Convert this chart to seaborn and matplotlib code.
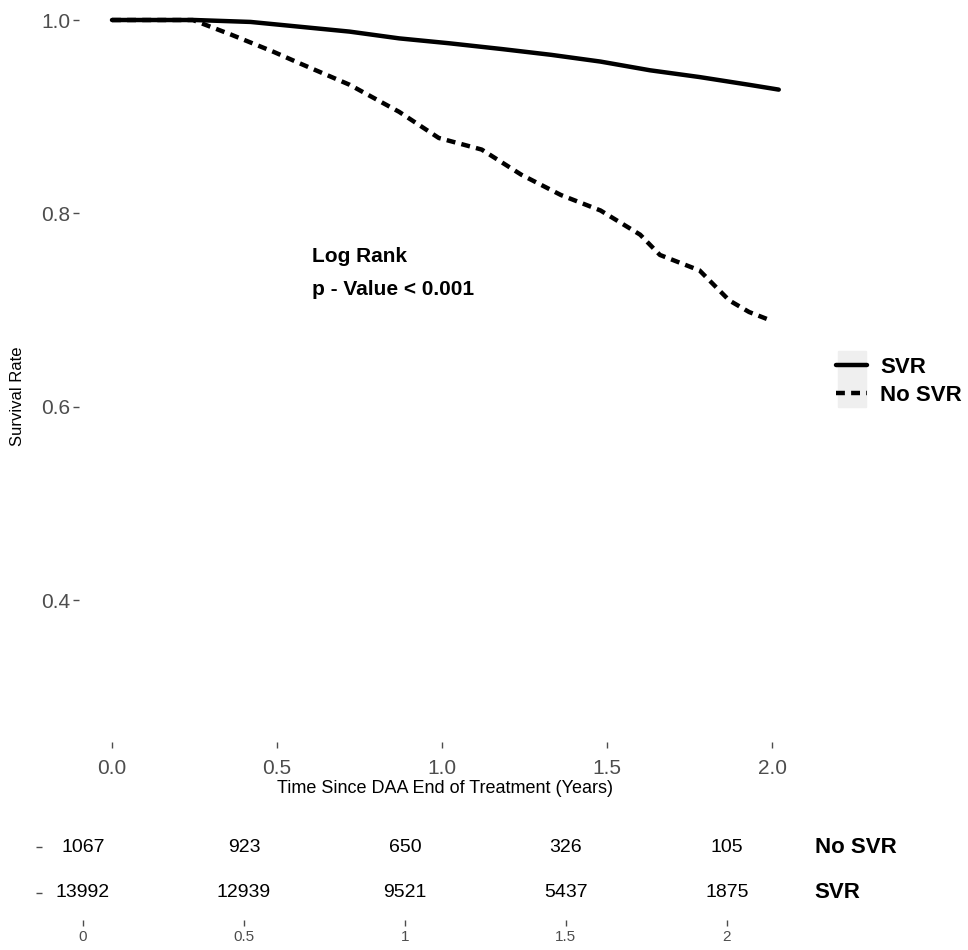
import pandas as pd
import matplotlib.pyplot as plt
import seaborn as sns
from matplotlib.patches import Rectangle

# survival curves
svr_time = [0, 0.25, 0.42, 0.57, 0.72, 0.87, 1.02, 1.18, 1.33, 1.48, 1.63, 1.78, 1.93, 2.02]
svr_surv = [1.0, 1.0, 0.998, 0.993, 0.988, 0.981, 0.976, 0.970, 0.964, 0.957, 0.948, 0.941, 0.933, 0.928]

nosvr_time = [0, 0.245, 0.36, 0.49, 0.57, 0.72, 0.87, 0.99, 1.12, 1.24, 1.36, 1.48,
              1.60, 1.66, 1.78, 1.87, 1.93, 1.99]
nosvr_surv = [1.0, 1.0, 0.985, 0.967, 0.955, 0.933, 0.905, 0.878, 0.866, 0.840, 0.819, 0.803,
              0.778, 0.757, 0.741, 0.710, 0.698, 0.690]

# numbers at risk
risk_times = [0, 0.5, 1, 1.5, 2]
risk_nosvr = [1067, 923, 650, 326, 105]
risk_svr = [13992, 12939, 9521, 5437, 1875]

df = pd.concat([
    pd.DataFrame({"time": svr_time, "surv": svr_surv, "group": "SVR"}),
    pd.DataFrame({"time": nosvr_time, "surv": nosvr_surv, "group": "No SVR"}),
])

sns.set_style("white")
plt.rcParams["font.family"] = ["Liberation Sans", "DejaVu Sans"]
plt.rcParams["text.color"] = "black"
plt.rcParams["axes.labelcolor"] = "black"
grey = "#4d4d4d"

fig = plt.figure(figsize=(9.68, 9.5), dpi=100)
ax = fig.add_axes([0.0816, 0.219, 0.757, 0.775])

sns.lineplot(data=df, x="time", y="surv", style="group", style_order=["SVR", "No SVR"],
             dashes={"SVR": "", "No SVR": (2, 1.4)}, color="black", linewidth=3.2,
             estimator=None, sort=False, ax=ax)

ax.set_xlim(-0.1, 2.12)
ax.set_ylim(0.2533, 1.0148)
ax.set_xticks([0, 0.5, 1.0, 1.5, 2.0])
ax.set_xticklabels(["0.0", "0.5", "1.0", "1.5", "2.0"])
ax.set_yticks([0.4, 0.6, 0.8, 1.0])
ax.set_yticklabels(["0.4", "0.6", "0.8", "1.0"])
ax.tick_params(axis="both", bottom=True, left=True, labelsize=15, labelcolor=grey,
               color=grey, length=4, width=1)
ax.tick_params(axis="x", pad=8)
ax.tick_params(axis="y", pad=2)
for s in ax.spines.values():
    s.set_visible(False)
ax.set_xlabel("Time Since DAA End of Treatment (Years)", fontsize=13, labelpad=2)
ax.set_ylabel("Survival Rate", fontsize=12)
ax.yaxis.set_label_coords(-0.074, 0.47)

ax.text(0.606, 0.755, "Log Rank", fontsize=15, fontweight="bold", va="center")
ax.text(0.606, 0.721, "p - Value < 0.001", fontsize=15, fontweight="bold", va="center")

# legend
ax.add_patch(Rectangle((838 / 968, 1 - 407 / 950), 28 / 968, 56 / 950, transform=fig.transFigure,
                       color="#efefef", clip_on=False, zorder=0))
sns.move_legend(ax, "center left", bbox_to_anchor=(1.033, 0.49), title=None, frameon=False,
                borderaxespad=0, borderpad=0, handlelength=1.4, handletextpad=0.6,
                labelspacing=0.3, prop={"weight": "bold", "size": 16})
for ln in ax.get_legend().get_lines():
    ln.set_linewidth(3.2)

# risk table
ax2 = fig.add_axes([0.0434, 0.0316, 0.783, 0.1])
ax2.set_xlim(-0.127, 2.227)
ax2.set_ylim(-0.587, 1.479)
for t, a, b in zip(risk_times, risk_nosvr, risk_svr):
    ax2.text(t, 1, str(a), ha="center", va="center", fontsize=14)
    ax2.text(t, 0, str(b), ha="center", va="center", fontsize=14)
ax2.text(2.273, 1, "No SVR", ha="left", va="center", fontsize=16, fontweight="bold", clip_on=False)
ax2.text(2.273, 0, "SVR", ha="left", va="center", fontsize=16, fontweight="bold", clip_on=False)
ax2.set_xticks(risk_times)
ax2.set_xticklabels(["0", "0.5", "1", "1.5", "2"])
ax2.set_yticks([0, 1])
ax2.set_yticklabels(["", ""])
ax2.tick_params(axis="both", bottom=True, left=True, labelsize=11, labelcolor=grey,
                color=grey, length=4, width=1, pad=3)
for s in ax2.spines.values():
    s.set_visible(False)
ax2.set_facecolor("none")

fig.savefig("out.png", dpi=100)
